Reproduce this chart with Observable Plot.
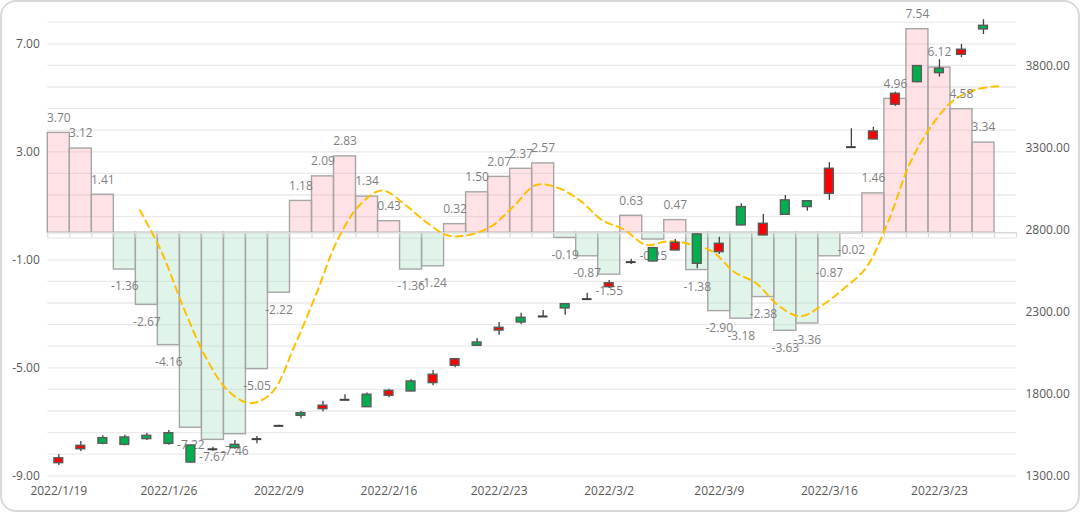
<!DOCTYPE html>
<html><head><meta charset="utf-8">
<script src="https://cdn.jsdelivr.net/npm/d3@7"></script>
<script src="https://cdn.jsdelivr.net/npm/@observablehq/plot@0.6"></script>
<style>
html,body{margin:0;padding:0;background:#fff;}
#wrap{position:relative;width:1080px;height:512px;overflow:hidden;}
#frame{position:absolute;left:0;top:0;width:1080px;height:512px;box-sizing:border-box;border:2px solid #DADADA;border-radius:16px;}
#wrap svg{position:absolute;left:0;top:0;}
</style></head>
<body><div id="wrap"><div id="frame"></div></div>
<script>
// ---- data ----
const dates = ["2022/1/19","2022/1/20","2022/1/21","2022/1/24","2022/1/25","2022/1/26","2022/1/27","2022/1/28",
  "2022/2/7","2022/2/8","2022/2/9","2022/2/10","2022/2/11","2022/2/14","2022/2/15","2022/2/16","2022/2/17","2022/2/18",
  "2022/2/21","2022/2/22","2022/2/23","2022/2/24","2022/2/25","2022/2/28","2022/3/1","2022/3/2","2022/3/3","2022/3/4",
  "2022/3/7","2022/3/8","2022/3/9","2022/3/10","2022/3/11","2022/3/14","2022/3/15","2022/3/16","2022/3/17","2022/3/18",
  "2022/3/21","2022/3/22","2022/3/23","2022/3/24","2022/3/25","2022/3/28"];
const changes = [3.70,3.12,1.41,-1.36,-2.67,-4.16,-7.22,-7.67,-7.46,-5.05,-2.22,1.18,2.09,2.83,1.34,0.43,-1.36,-1.24,
  0.32,1.50,2.07,2.37,2.57,-0.19,-0.87,-1.55,0.63,-0.25,0.47,-1.38,-2.90,-3.18,-2.38,-3.63,-3.36,-0.87,-0.02,1.46,
  4.96,7.54,6.12,4.58,3.34,null];
const movingAvg = [null,null,null,null,0.84,-0.73,-2.80,-4.62,-5.84,-6.31,-5.92,-4.24,-2.29,-0.23,1.04,1.57,1.07,0.40,
  -0.10,-0.07,0.26,1.00,1.77,1.66,1.19,0.47,0.12,-0.45,-0.31,-0.42,-0.69,-1.45,-1.87,-2.69,-3.09,-2.68,-2.05,-1.28,
  0.43,2.61,4.01,4.93,5.31,5.43];
const openP  = [1377,1462,1530,1534,1544,1560,1485,1462,1489,1524,1605,1682,1707,1764,1795,1789,1876,1866,1972,2114,2187,2265,2273,2348,2379,2452,2605,2690,2676,2774,2666,2941,2768,2982,2977,3022,3307,3354,3566,3802,3786,3871,4048,null];
const highP  = [1428,1509,1544,1548,1560,1577,1488,1474,1516,1540,1608,1693,1756,1795,1805,1829,1886,1943,2015,2139,2236,2293,2310,2350,2415,2493,2623,2695,2743,2778,2757,2961,2896,3012,2980,3212,3419,3429,3643,3805,3841,3934,4085,null];
const lowP   = [1363,1448,1489,1483,1516,1487,1379,1450,1462,1495,1603,1648,1691,1763,1717,1776,1813,1850,1960,2092,2159,2224,2271,2281,2377,2444,2590,2605,2674,2564,2652,2827,2766,2892,2916,2982,3305,3352,3556,3700,3735,3853,3995,null];
const closeP = [1407,1483,1496,1489,1524,1495,1381,1462,1469,1524,1605,1666,1728,1764,1719,1819,1815,1917,2012,2094,2204,2236,2273,2322,2379,2476,2605,2609,2723,2595,2717,2829,2839,2894,2941,3175,3307,3403,3633,3704,3759,3902,4026,null];
const leftTicks = [-9,-5,-1,3,7];
const rightTicks = [1300,1800,2300,2800,3300,3800];
const labelIdx = [0,5,10,15,20,25,30,35,40];

// ---- layout ----
const W = 1080, H = 512;
const M = {marginLeft: 47.3, marginRight: 64, marginTop: 21.7, marginBottom: 36.7};
const font = {background: "transparent", fontFamily: "'Open Sans', 'Noto Sans', sans-serif", fontSize: "12px", overflow: "visible"};

const bars = changes.map((v, i) => ({i, v})).filter(d => d.v != null);
const ma = movingAvg.map((v, i) => ({i, v})).filter(d => d.v != null);
const candles = openP.map((o, i) => ({i, o, h: highP[i], l: lowP[i], c: closeP[i]})).filter(d => d.o != null);
const bodies = candles.filter(d => d.o !== d.c);
const dojis = candles.filter(d => d.o === d.c);
const grid = d3.range(22).map(k => -9 + 0.8 * k);

const p1 = Plot.plot({
  width: W, height: H, ...M, style: font,
  x: {type: "linear", domain: [0, 44]},
  y: {domain: [-9, 7.8]},
  marks: [
    Plot.ruleY(grid, {stroke: "#EAEAEA", strokeWidth: 1.3}),
    Plot.rectY(bars, {x1: d => d.i, x2: d => d.i + 1, y1: 0, y2: "v",
      fill: d => d.v >= 0 ? "#FF8C99" : "#A9DFBF", fillOpacity: d => d.v >= 0 ? 0.25 : 0.35,
      stroke: "#A6A6A6", strokeWidth: 1.4}),
    Plot.ruleY([0], {stroke: "#D9D9D9", strokeWidth: 1.5}),
    Plot.ruleX(d3.range(45), {x: d => d, y1: 0, y2: -0.19, stroke: "#D9D9D9", strokeWidth: 1.2}),
    Plot.line(ma, {x: d => d.i + 0.5 - 0.32, y: "v", stroke: "#FFC000", strokeWidth: 2,
      strokeDasharray: "7,5", curve: "catmull-rom"}),
    Plot.text(bars.filter(d => d.v >= 0), {x: d => d.i + 0.5, y: "v", text: d => d.v.toFixed(2),
      dy: -15, fill: "#7F7F7F"}),
    Plot.text(bars.filter(d => d.v < 0), {x: d => d.i + 0.5, y: "v", text: d => d.v.toFixed(2),
      dy: 17, fill: "#7F7F7F"}),
    Plot.axisY({ticks: leftTicks, tickFormat: d => d.toFixed(2), tickSize: 0, tickPadding: 8,
      anchor: "left", fill: "#595959", label: null}),
    Plot.axisX({ticks: labelIdx.map(i => i + 0.5), tickFormat: d => dates[Math.round(d - 0.5)],
      tickSize: 0, tickPadding: 11, anchor: "bottom", fill: "#595959", label: null})
  ]
});

const p2 = Plot.plot({
  width: W, height: H, ...M, style: font,
  x: {type: "linear", domain: [0, 44], axis: null},
  y: {domain: [1300, 4070]},
  marks: [
    Plot.ruleX(candles, {x: d => d.i + 0.5, y1: "l", y2: "h", stroke: "#404040", strokeWidth: 1.3}),
    Plot.rectY(bodies, {x1: d => d.i + 0.3, x2: d => d.i + 0.7, y1: "o", y2: "c",
      fill: d => d.c > d.o ? "#FF0000" : "#00B050",
      stroke: "#595959", strokeWidth: 1.4}),
    Plot.ruleY(dojis, {y: "o", x1: d => d.i + 0.28, x2: d => d.i + 0.72, stroke: "#404040", strokeWidth: 2}),
    Plot.axisY({ticks: rightTicks, tickFormat: d => d.toFixed(2), tickSize: 0, tickPadding: 9,
      anchor: "right", fill: "#595959", label: null})
  ]
});

const wrap = document.getElementById("wrap");
wrap.appendChild(p1);
wrap.appendChild(p2);
</script>
</body></html>
